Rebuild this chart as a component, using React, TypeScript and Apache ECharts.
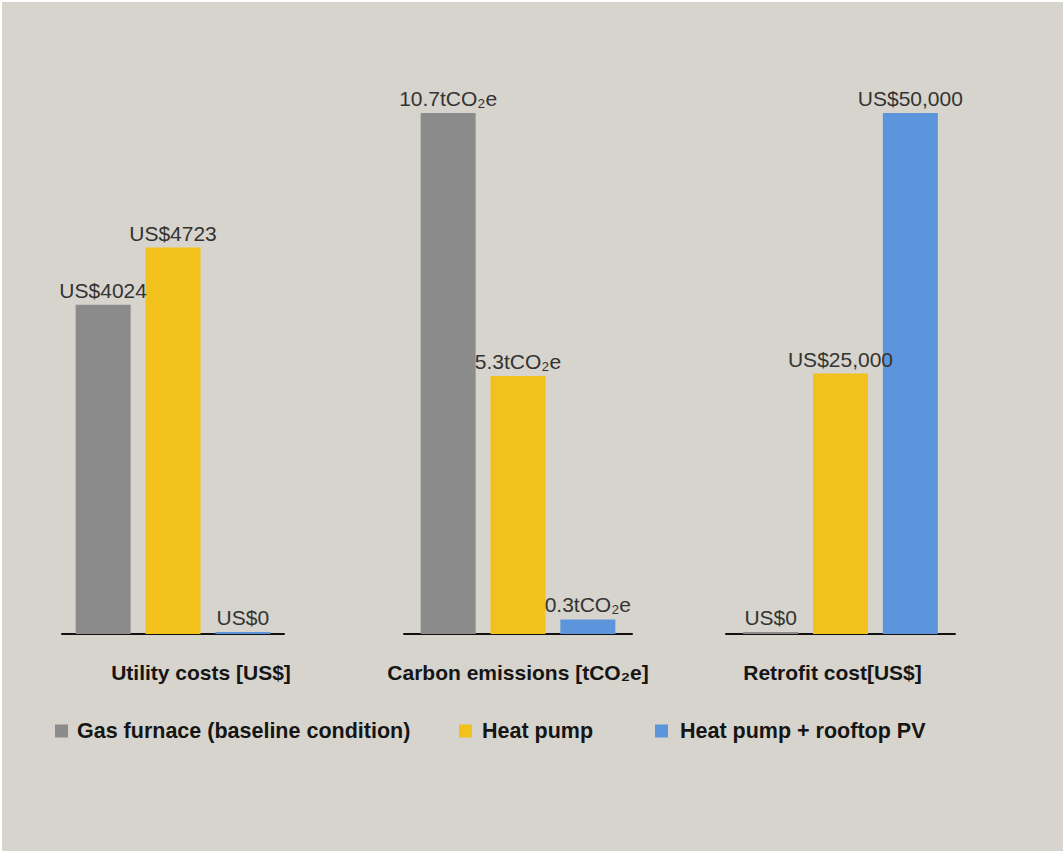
import React, { useEffect, useRef } from "react";
import * as echarts from "echarts";

const panels = ["Utility costs [US$]", "Carbon emissions [tCO₂e]", "Retrofit cost[US$]"];
const seriesNames = ["Gas furnace (baseline condition)", "Heat pump", "Heat pump + rooftop PV"];
const utilityCosts = [4024, 4723, 0];
const carbonEmissions = [10.7, 5.3, 0.3];
const retrofitCosts = [0, 25000, 50000];
const utilityLabels = ["US$4024", "US$4723", "US$0"];
const carbonLabels = ["10.7tCO₂e", "5.3tCO₂e", "0.3tCO₂e"];
const retrofitLabels = ["US$0", "US$25,000", "US$50,000"];
const axisMax = [6367, 10.7, 50000];

const colors = ["#8b8b8b", "#f2c11c", "#5c95db"];

export default function App() {
  const ref = useRef<HTMLDivElement>(null);
  useEffect(() => {
    document.body.style.margin = "0";
    const chart = echarts.init(ref.current!, undefined, { renderer: "svg" });
    const grids = [
      { left: 62, width: 222 },
      { left: 404, width: 228 },
      { left: 726, width: 229 },
    ];
    const titlePad = [
      [0, 0, 0, 56],
      [0, 0, 0, 0],
      [0, 16, 0, 0],
    ];
    const values = [utilityCosts, carbonEmissions, retrofitCosts];
    const labels = [utilityLabels, carbonLabels, retrofitLabels];
    const series: any[] = [];
    for (let p = 0; p < 3; p++) {
      for (let s = 0; s < 3; s++) {
        series.push({
          type: "bar",
          name: seriesNames[s],
          xAxisIndex: p,
          yAxisIndex: p,
          data: [values[p][s]],
          barWidth: 55,
          barGap: "27%",
          barMinHeight: 2,
          itemStyle: { color: colors[s] },
          label: {
            show: true,
            position: "top",
            distance: 4,
            formatter: labels[p][s],
            fontSize: 21,
            color: "#333",
            fontFamily: "Liberation Sans, Arial, sans-serif",
          },
        });
      }
    }
    const legendLefts = [50, 454, 650];
    const legendPads = [4, 5, 7];
    chart.setOption({
      animation: false,
      backgroundColor: "transparent",
      grid: grids.map((g) => ({ left: g.left - 2, width: g.width, top: 111, bottom: 217 })),
      xAxis: panels.map((name, i) => ({
        type: "category",
        gridIndex: i,
        data: [name],
        axisLine: { show: true, lineStyle: { color: "#111", width: 2 } },
        axisTick: { show: false },
        axisLabel: {
          margin: 28,
          fontSize: 21,
          fontWeight: "bold",
          color: "#151515",
          padding: titlePad[i],
          fontFamily: "Liberation Sans, Arial, sans-serif",
        },
      })),
      yAxis: axisMax.map((m, i) => ({
        type: "value",
        gridIndex: i,
        min: 0,
        max: m,
        show: false,
        splitLine: { show: false },
      })),
      legend: seriesNames.map((n, i) => ({
        data: [n],
        left: legendLefts[i] - 2,
        top: 713,
        icon: "rect",
        itemWidth: 13,
        itemHeight: 13,
        itemGap: 10,
        textStyle: {
          fontSize: 21.5,
          fontWeight: "bold",
          color: "#151515",
          fontFamily: "Liberation Sans, Arial, sans-serif",
          padding: [0, 0, 0, legendPads[i]],
        },
        selectedMode: false,
      })),
      series,
    });
    return () => chart.dispose();
  }, []);
  return (
    <div style={{ width: 1063, height: 851, background: "#fff", position: "relative" }}>
      <div
        ref={ref}
        style={{
          position: "absolute",
          left: 2,
          top: 2,
          width: 1061,
          height: 849,
          background: "#d6d4cc",
        }}
      />
    </div>
  );
}
